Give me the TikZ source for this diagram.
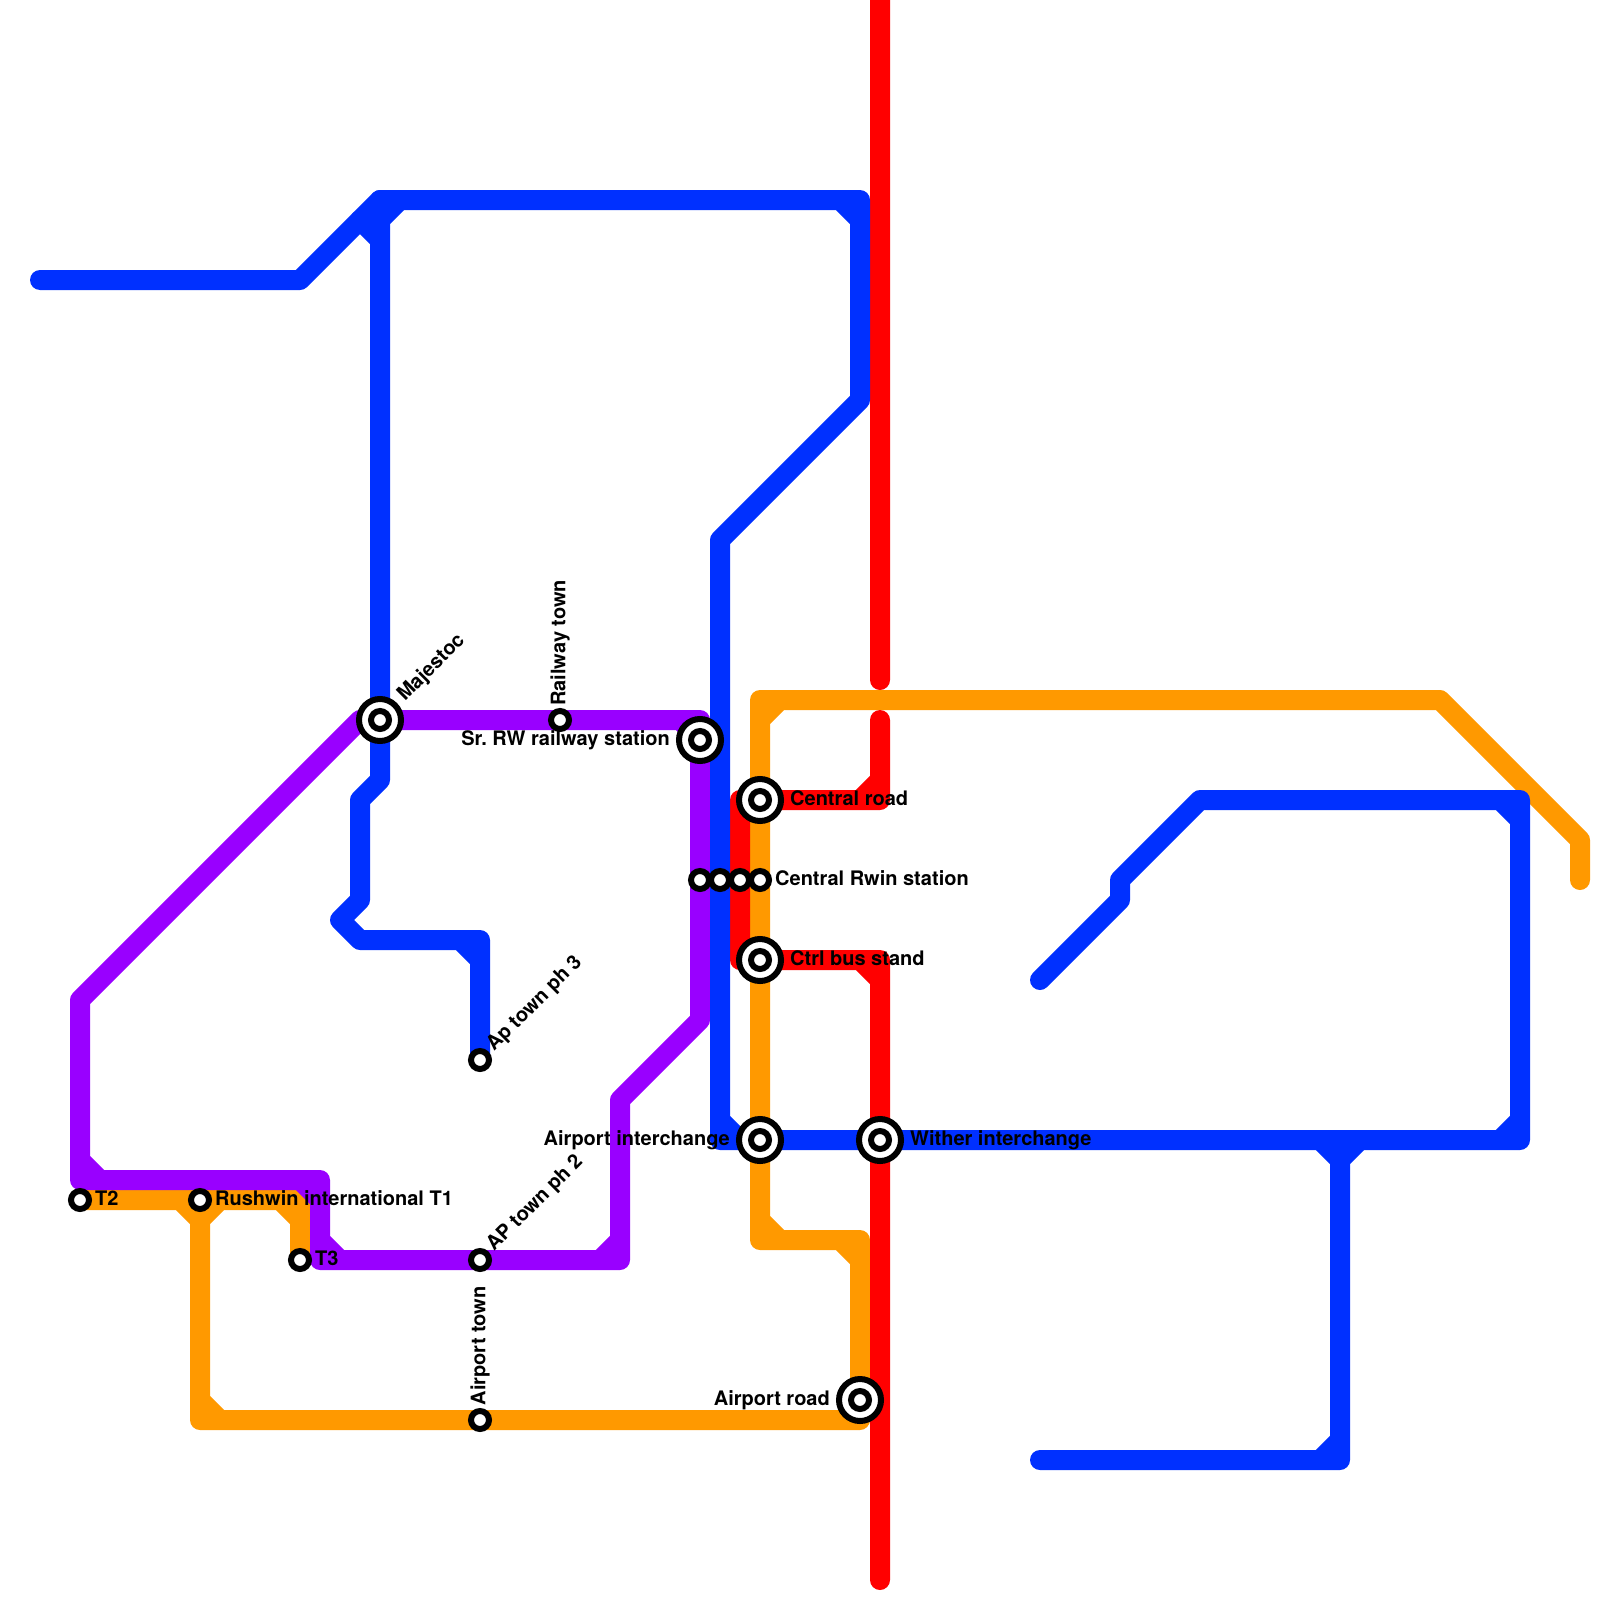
\documentclass[tikz,border=0pt]{standalone}
\usepackage{fontspec}
\setmainfont{TeX Gyre Heros}
\usetikzlibrary{backgrounds}
\definecolor{lred}{HTML}{FF0000}
\definecolor{lblue}{HTML}{0030FF}
\definecolor{lpurple}{HTML}{9900FF}
\definecolor{lorange}{HTML}{FF9900}
\tikzset{
  x=1pt,y=-1pt,
  metro/.style={line width=20pt,line cap=round,line join=round},
  stopsmall/.style={circle,draw=black,fill=white,line width=6pt,minimum size=18pt,inner sep=0pt},
  stopbig/.style={circle,draw=black,fill=white,line width=6pt,minimum size=42pt,inner sep=0pt,
    path picture={\draw[black,fill=white,line width=6pt] (path picture bounding box.center) circle (9pt);}},
  lab/.style={font=\frenchspacing\bfseries\fontsize{20}{22}\selectfont,text=black,inner sep=0pt},
  labr/.style={lab,anchor=base west},
  labl/.style={lab,anchor=base east},
  labd/.style={lab,anchor=base west,rotate=45},
  labv/.style={lab,anchor=west,rotate=90},
}
\begin{document}
\begin{tikzpicture}
\useasboundingbox (0,0) rectangle (1600,1600);
% stations
\node[stopbig] (majestoc) at (380,720) {};
\node[stopbig] (srrw) at (700,740) {};
\node[stopbig] (central) at (760,800) {};
\node[stopbig] (ctrl) at (760,960) {};
\node[stopbig] (airint) at (760,1140) {};
\node[stopbig] (wither) at (880,1140) {};
\node[stopbig] (airroad) at (860,1400) {};
\node[stopsmall] (t2) at (80,1200) {};
\node[stopsmall] (t1) at (200,1200) {};
\node[stopsmall] (t3) at (300,1260) {};
\node[stopsmall] (ap2) at (480,1260) {};
\node[stopsmall] (airtown) at (480,1420) {};
\node[stopsmall] (ap3) at (480,1060) {};
\node[stopsmall] (railtown) at (560,720) {};
\node[stopsmall] (rw1) at (700,880) {};
\node[stopsmall] (rw2) at (720,880) {};
\node[stopsmall] (rw3) at (740,880) {};
\node[stopsmall] (rw4) at (760,880) {};
% lines
\begin{scope}[on background layer]
\fill[white] (0,0) rectangle (1600,1600);
% orange
\draw[metro,lorange] (1580,880) -- (1580,840) -- (1440,700) -- (760,700) -- (760,1240) -- (860,1240) -- (860,1420) -- (200,1420) -- (200,1200)
  (t2.center) -- (300,1200) -- (t3.center)
  (760,720) -- (780,700) (760,1220) -- (780,1240) (840,1240) -- (860,1260)
  (200,1400) -- (220,1420) (180,1200) -- (200,1220) (220,1200) -- (200,1220) (280,1200) -- (300,1220);
% red
\draw[metro,lred] (880,-20) -- (880,680)
  (880,720) -- (880,800) -- (740,800) -- (740,960) -- (880,960) -- (880,1580)
  (880,780) -- (860,800) (860,960) -- (880,980);
% purple
\draw[metro,lpurple] (majestoc.center) -- (700,720) -- (700,1020) -- (620,1100) -- (620,1260) -- (320,1260) -- (320,1180) -- (80,1180) -- (80,1000) -- (360,720) -- (majestoc.center)
  (680,720) -- (700,740) (600,1260) -- (620,1240) (320,1240) -- (340,1260) (300,1180) -- (320,1200) (80,1160) -- (100,1180);
% blue
\draw[metro,lblue] (40,280) -- (300,280) -- (380,200) -- (860,200) -- (860,400) -- (720,540) -- (720,1140) -- (1520,1140) -- (1520,800) -- (1200,800) -- (1120,880) -- (1120,900) -- (1040,980)
  (840,200) -- (860,220) (720,1120) -- (740,1140) (1500,1140) -- (1520,1120) (1500,800) -- (1520,820);
\draw[metro,lblue] (380,200) -- (380,780) -- (360,800) -- (360,900) -- (340,920) -- (360,940) -- (480,940) -- (ap3.center)
  (380,220) -- (400,200) (360,220) -- (380,240) (460,940) -- (480,960);
\draw[metro,lblue] (1040,1460) -- (1340,1460) -- (1340,1140)
  (1320,1460) -- (1340,1440) (1320,1140) -- (1340,1160) (1360,1140) -- (1340,1160);
\end{scope}
% labels
\node[labd] (lmaj) at (405,702) {Majestoc};
\node[labv] (lrail) at (560,706) {Railway town};
\node[labl] (lsr) at (670,745) {Sr. RW railway station};
\node[labr] (lcen) at (790,805) {Central road};
\node[labr] (lrw) at (775,885) {Central Rwin station};
\node[labr] (lctrl) at (790,965) {Ctrl bus stand};
\node[labl] (lai) at (730,1145) {Airport interchange};
\node[labr] (lwit) at (910,1145) {Wither interchange};
\node[labl] (lar) at (830,1405) {Airport road};
\node[labr] (lt2) at (95,1205) {T2};
\node[labr] (lt1) at (215,1205) {Rushwin international T1};
\node[labr] (lt3) at (315,1265) {T3};
\node[labd] (lap2) at (494,1252) {AP town ph 2};
\node[labd] (lap3) at (494,1052) {Ap town ph 3};
\node[labv] (lat) at (480,1405.5) {Airport town};
\end{tikzpicture}
\end{document}
